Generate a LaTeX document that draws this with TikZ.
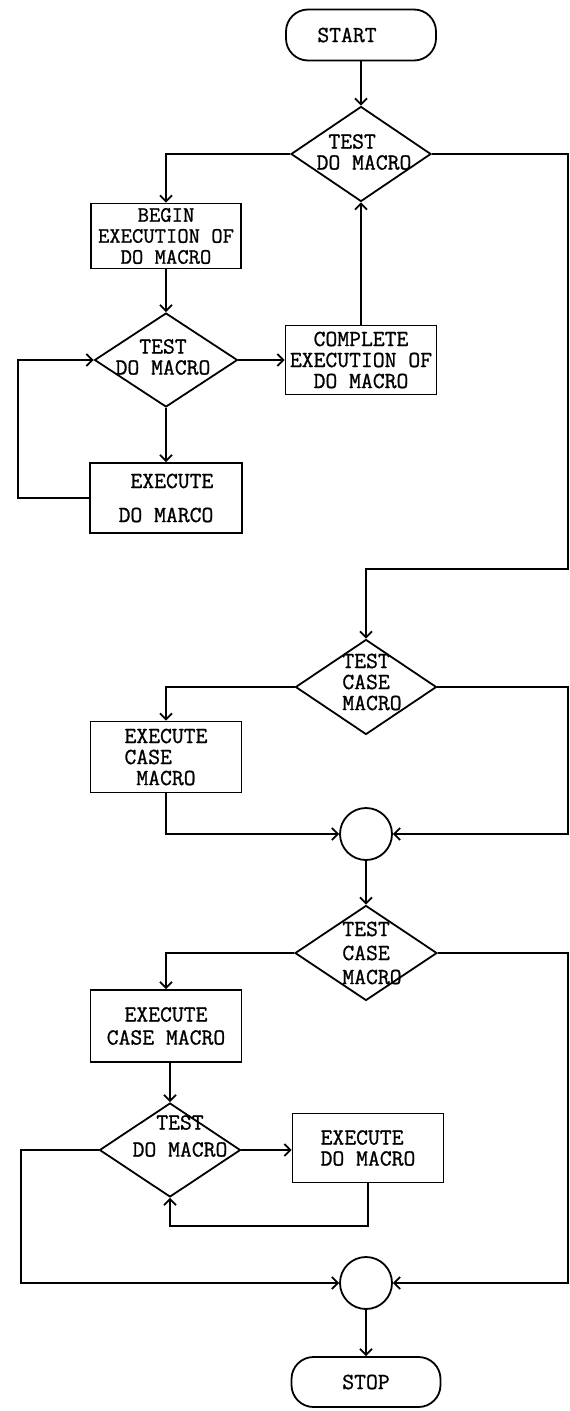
\documentclass[tikz,border=0pt]{standalone}
\usepackage{fontspec}
\newfontfamily\tw[FakeBold=1]{Latin Modern Mono}
\usetikzlibrary{shapes.geometric,arrows.meta}
\begin{document}
\begin{tikzpicture}[x=1pt,y=-1pt,
  every node/.style={font=\tw\fontsize{23}{21}\selectfont, inner sep=0pt},
  arr/.style={line width=1.8pt,-{Straight Barb[length=6pt,width=12pt]}},
  procbox/.style={draw, line width=1.8pt, rectangle},
  term/.style={draw, line width=1.8pt, rectangle, rounded corners=22pt, minimum width=150pt, minimum height=51pt},
  dec/.style={draw, diamond, line width=1.8pt, inner sep=0pt},
  circ/.style={draw, circle, line width=1.8pt, minimum size=52pt, inner sep=0pt}
]
\fill[white] (0,0) rectangle (570,1411);
\useasboundingbox (0,0) rectangle (570,1411);

% nodes
\node[term] (start) at (361,35) {START\hspace*{28pt}};
\node[dec, minimum width=140pt, minimum height=95pt] (d1) at (361,154) {};
\node[align=left] (d1t) at (364,152) {\hphantom{X}TEST\\DO MACRO};
\node[procbox, minimum width=150pt, minimum height=65pt, align=center, font=\tw\fontsize{22}{21}\selectfont] (b1) at (166,236) {BEGIN\\EXECUTION OF\\DO MACRO};
\node[dec, minimum width=143pt, minimum height=94pt] (d2) at (166,360) {};
\node[align=center] (d2t) at (163,357) {TEST\\DO MACRO};
\node[procbox, minimum width=151pt, minimum height=69pt, align=center] (c) at (361,360) {COMPLETE\\EXECUTION OF\\DO MACRO};
\node[procbox, minimum width=152pt, minimum height=70pt, align=right] (e1) at (166,498) {EXECUTE\\[13pt]DO MARCO};
\node[dec, minimum width=141pt, minimum height=95pt] (d3) at (366,687) {};
\node[align=left] (d3t) at (372,682) {TEST\\CASE\\MACRO};
\node[procbox, minimum width=151pt, minimum height=71pt, align=left] (k1) at (166,757) {EXECUTE\\CASE\\\hphantom{X}MACRO};
\node[circ] (o1) at (366,834) {};
\node[dec, minimum width=142pt, minimum height=95pt] (d4) at (366,953) {};
\node[align=left] (d4t) at (372,953) {TEST\\[3pt]CASE\\[3pt]MACRO};
\node[procbox, minimum width=151pt, minimum height=72pt, align=center] (k2) at (166,1026) {EXECUTE\\[2pt]CASE MACRO};
\node[dec, minimum width=141pt, minimum height=94pt] (d5) at (170,1150) {};
\node[align=center] (d5t) at (180,1136) {TEST\\[6pt]DO MACRO};
\node[procbox, minimum width=151pt, minimum height=69pt, align=left] (k3) at (368,1148) {EXECUTE\\DO MACRO};
\node[circ] (o2) at (366,1283) {};
\node[term, minimum width=149pt, minimum height=50pt] (stop) at (366,1382) {STOP};

% free corner points
\coordinate (r1) at (568,569);
\coordinate (l1) at (18,498);
\coordinate (r2) at (568,834);
\coordinate (l2) at (170,1226);
\coordinate (l3) at (21,1283);
\coordinate (r3) at (568,1283);

% connectors
\draw[arr] (start.south) -- (d1.north);
\draw[arr] (d1.west) -| (b1.north);
\draw[arr] (d1.east) -| (r1) -| (d3.north);
\draw[arr] (b1.south) -- (d2.north);
\draw[arr] (d2.east) -- (c.west);
\draw[arr] (c.north) -- (d1.south);
\draw[arr] (d2.south) -- (e1.north);
\draw[arr] (e1.west) -- (l1) |- (d2.west);
\draw[arr] (d3.west) -| (k1.north);
\draw[arr] (k1.south) |- (o1.west);
\draw[arr] (d3.east) -| (r2) -- (o1.east);
\draw[arr] (o1.south) -- (d4.north);
\draw[arr] (d4.west) -| (k2.north);
\draw[arr] (d5.north |- k2.south) -- (d5.north);
\draw[arr] (d5.east) -- (d5.east -| k3.west);
\draw[arr] (k3.south) |- (l2) -- (d5.south);
\draw[arr] (d5.west) -| (l3) -- (o2.west);
\draw[arr] (d4.east) -| (r3) -- (o2.east);
\draw[arr] (o2.south) -- (stop.north);
\end{tikzpicture}
\end{document}
